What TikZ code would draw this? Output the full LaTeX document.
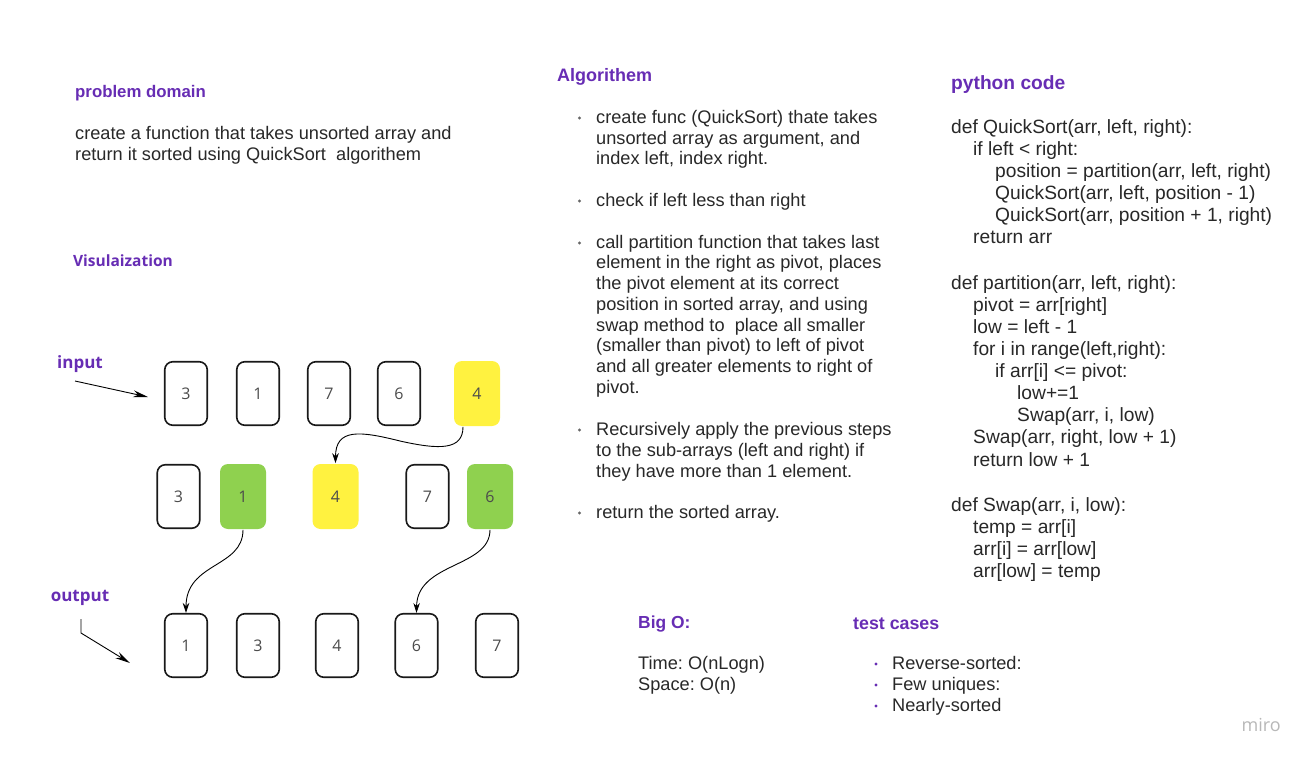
\documentclass[tikz,border=0pt]{standalone}
\usepackage{fontspec}
\setmainfont{Liberation Sans}
\newfontfamily\osans{Open Sans}
\usetikzlibrary{arrows.meta}
\definecolor{mpurple}{RGB}{103,45,180}
\definecolor{myellow}{RGB}{255,242,64}
\definecolor{mgreen}{RGB}{143,209,79}
\definecolor{mtext}{RGB}{40,40,40}
\frenchspacing
\begin{document}
\begin{tikzpicture}[x=1pt,y=-1pt,
  cell/.style={draw=black!90, line width=1.6pt, rounded corners=8pt,
    minimum width=42.5pt, minimum height=63.5pt, inner sep=0pt,
    font=\osans\fontsize{16}{19}\selectfont, text=black!70},
  ycell/.style={cell, draw=none, fill=myellow, minimum width=46pt, minimum height=65pt},
  gcell/.style={cell, draw=none, fill=mgreen, minimum width=46pt, minimum height=65pt},
  head/.style={anchor=base west, inner sep=0pt, text=mpurple, font=\bfseries\fontsize{#1}{#1}\selectfont},
  body/.style={anchor=base west, inner sep=0pt, text=mtext, font=\fontsize{18.2}{21}\selectfont},
  code/.style={anchor=base west, inner sep=0pt, text=mtext, font=\fontsize{19.2}{22}\selectfont},
  lbl/.style={anchor=center, inner sep=0pt, text=mpurple, font=\osans\bfseries\fontsize{#1}{#1}\selectfont},
  conn/.style={line width=0.9pt, -{Stealth[length=10pt,width=6.5pt]}},
]
\useasboundingbox (0,0) rectangle (1311,762);
\fill[white] (0,0) rectangle (1311,762);

% problem domain
\node[head=16.8] (pdh) at (75,98) {problem domain};
\node[body] (pd1) at (75,139.5) {create a function that takes unsorted array and};
\node[body] (pd2) at (75,161) {return it sorted using QuickSort\ \ algorithem};

% Algorithem
\node[head=18] (alh) at (557,81.5) {Algorithem};
\foreach \yy/\txt [count=\i] in {
  117/{create func (QuickSort) thate takes},
  138/{unsorted array as argument, and},
  158/{index left, index right.},
  200/{check if left less than right},
  242/{call partition function that takes last},
  262/{element in the right as pivot, places},
  283/{the pivot element at its correct},
  304/{position in sorted array, and using},
  325/{swap method to\ \ place all smaller},
  345/{(smaller than pivot) to left of pivot},
  366/{and all greater elements to right of},
  387/{pivot.},
  429/{Recursively apply the previous steps},
  450/{to the sub-arrays (left and right) if},
  471/{they have more than 1 element.},
  512/{return the sorted array.}}
  \node[body] (al\i) at (596,\yy+6.5) {\txt};
\foreach \yy in {117,200,242,429,512}
  \fill[black!60] (579.5,\yy+1) circle (1.7);

% python code
\node[head=19.2] (pyh) at (951,89.5) {python code};
\foreach \yy/\lv/\txt [count=\i] in {
  127/0/{def QuickSort(arr, left, right):},
  149/1/{if left < right:},
  171/2/{position = partition(arr, left, right)},
  193/2/{QuickSort(arr, left, position - 1)},
  215/2/{QuickSort(arr, position + 1, right)},
  237/1/{return arr},
  283/0/{def partition(arr, left, right):},
  305/1/{pivot = arr[right]},
  327/1/{low = left - 1},
  349/1/{for i in range(left,right):},
  371/2/{if arr[i] <= pivot:},
  393/3/{low+=1},
  415/3/{Swap(arr, i, low)},
  437/1/{Swap(arr, right, low + 1)},
  460/1/{return low + 1},
  505/0/{def Swap(arr, i, low):},
  527/1/{temp = arr[i]},
  549/1/{arr[i] = arr[low]},
  571/1/{arr[low] = temp}}
  \node[code] (py\i) at (951+22*\lv,\yy+6.5) {\txt};

% Big O
\node[head=17.4] (boh) at (638,628) {Big O:};
\node[body] (bo1) at (638,669.5) {Time: O(nLogn)};
\node[body] (bo2) at (638,690.5) {Space: O(n)};

% test cases
\node[head=17.8] (tch) at (853,629) {test cases};
\foreach \yy/\txt [count=\i] in {663/{Reverse-sorted:},684/{Few uniques:},705/{Nearly-sorted}}
  \node[body] (tc\i) at (892,\yy+6.5) {\txt};
\foreach \yy in {663,684,705}
  \fill[mpurple] (876,\yy+1) circle (1.7);

% labels
\node[lbl=15.5] (vis) at (123,261) {Visulaization};
\node[lbl=17] (inl) at (80,364) {input};
\node[lbl=17] (outl) at (80,598) {output};

% row 1
\node[cell] (i1) at (186,393.5) {3};
\node[cell] (i2) at (258,393.5) {1};
\node[cell] (i3) at (329,393.5) {7};
\node[cell] (i4) at (399,393.5) {6};
\node[ycell] (i5) at (477,393.5) {4};
% row 2
\node[cell] (m1) at (178.5,496.5) {3};
\node[gcell] (m2) at (243,496.5) {1};
\node[ycell] (m3) at (335.5,496.5) {4};
\node[cell] (m4) at (427.5,496.5) {7};
\node[gcell] (m5) at (490,496.5) {6};
% row 3
\node[cell] (o1) at (186,645.5) {1};
\node[cell] (o2) at (258,645.5) {3};
\node[cell] (o3) at (337,645.5) {4};
\node[cell] (o4) at (416.5,645.5) {6};
\node[cell] (o5) at (497,645.5) {7};

% connectors
\coordinate (inS) at (75,381);
\coordinate (inE) at (148,397);
\draw[line width=0.9pt, -{Stealth[length=15pt,width=7pt]}] (inS) -- (inE);
\coordinate (outS) at (81,619);
\coordinate (outK) at (81,633);
\coordinate (outE) at (130,663);
\draw[line width=0.9pt, -{Stealth[length=15pt,width=7pt]}] (outS) -- (outK) -- (outE);

\coordinate (pv) at (400,441);
\draw[conn] ([xshift=-14pt]i5.south) .. controls (463,450) and (440,450) .. (pv)
  .. controls (360,431) and (335.5,428) .. (m3.north);
\draw[conn] (m2.south) .. controls (243,568) and (186,562) .. (o1.north);
\draw[conn] (m5.south) .. controls (490,568) and (417,562) .. (o4.north);

% watermark
\node[anchor=base east, inner sep=0pt, text=black!28, font=\osans\fontsize{18}{18}\selectfont] (miro) at (1281,731) {miro};
\end{tikzpicture}
\end{document}
